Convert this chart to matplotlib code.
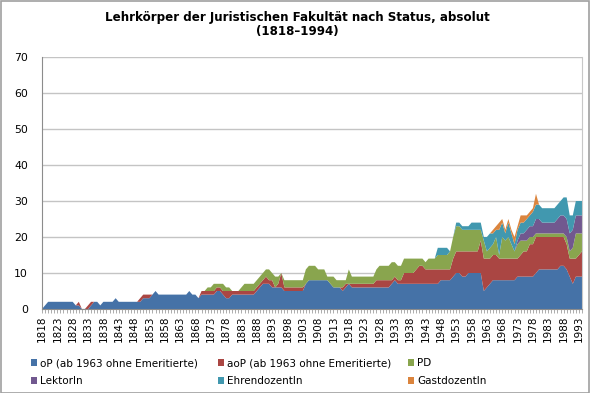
import matplotlib
matplotlib.use("Agg")
import matplotlib.pyplot as plt
from matplotlib.patches import Patch, Rectangle

years = list(range(1818, 1995))

oP = [0, 1, 2, 2, 2, 2, 2, 2, 2, 2,
      2, 1, 1, 0, 0, 0, 1, 2, 2, 1,
      2, 2, 2, 2, 3, 2, 2, 2, 2, 2,
      2, 2, 2, 3, 3, 3, 4, 5, 4, 4,
      4, 4, 4, 4, 4, 4, 4, 4, 5, 4,
      4, 3, 4, 4, 4, 4, 4, 5, 5, 4,
      3, 3, 4, 4, 4, 4, 4, 4, 4, 4,
      5, 6, 7, 7, 7, 6, 6, 6, 6, 5,
      5, 5, 5, 5, 5, 5, 7, 8, 8, 8,
      8, 8, 8, 8, 7, 6, 6, 6, 5, 6,
      7, 6, 6, 6, 6, 6, 6, 6, 6, 6,
      6, 6, 6, 6, 7, 8, 7, 7, 7, 7,
      7, 7, 7, 7, 7, 7, 7, 7, 7, 7,
      8, 8, 8, 8, 9, 10, 10, 9, 9, 10,
      10, 10, 10, 10, 5, 6, 7, 8, 8, 8,
      8, 8, 8, 8, 8, 9, 9, 9, 9, 9,
      9, 10, 11, 11, 11, 11, 11, 11, 11, 12,
      12, 11, 9, 7, 9, 9, 9]

aoP = [0, 0, 0, 0, 0, 0, 0, 0, 0, 0,
       0, 0, 1, 0, 0, 1, 1, 0, 0, 0,
       0, 0, 0, 0, 0, 0, 0, 0, 0, 0,
       0, 0, 1, 1, 1, 1, 0, 0, 0, 0,
       0, 0, 0, 0, 0, 0, 0, 0, 0, 0,
       0, 0, 1, 1, 1, 1, 1, 1, 1, 1,
       2, 2, 1, 1, 1, 1, 1, 1, 1, 1,
       1, 1, 1, 2, 1, 2, 0, 1, 4, 1,
       1, 1, 1, 1, 1, 1, 0, 0, 0, 0,
       0, 0, 0, 0, 0, 0, 0, 0, 1, 1,
       0, 1, 1, 1, 1, 1, 1, 1, 1, 2,
       2, 2, 2, 2, 1, 1, 1, 1, 3, 3,
       3, 3, 4, 5, 5, 4, 4, 4, 4, 4,
       3, 3, 3, 3, 5, 6, 6, 7, 7, 6,
       6, 6, 6, 9, 9, 8, 7, 7, 7, 6,
       6, 6, 6, 6, 6, 5, 6, 7, 7, 9,
       9, 10, 9, 9, 9, 9, 9, 9, 9, 8,
       8, 7, 5, 7, 5, 6, 7]

PD = [0, 0, 0, 0, 0, 0, 0, 0, 0, 0,
      0, 0, 0, 0, 0, 0, 0, 0, 0, 0,
      0, 0, 0, 0, 0, 0, 0, 0, 0, 0,
      0, 0, 0, 0, 0, 0, 0, 0, 0, 0,
      0, 0, 0, 0, 0, 0, 0, 0, 0, 0,
      0, 0, 0, 0, 1, 1, 2, 1, 1, 2,
      1, 1, 0, 0, 0, 1, 2, 2, 2, 2,
      2, 2, 2, 2, 3, 2, 3, 2, 0, 2,
      2, 2, 2, 2, 2, 2, 4, 4, 4, 4,
      3, 3, 3, 1, 2, 3, 2, 2, 2, 1,
      4, 2, 2, 2, 2, 2, 2, 2, 2, 3,
      4, 4, 4, 4, 5, 4, 4, 4, 4, 4,
      4, 4, 3, 2, 2, 2, 3, 3, 3, 4,
      4, 4, 4, 5, 6, 7, 7, 6, 6, 6,
      6, 6, 6, 3, 5, 2, 3, 3, 5, 1,
      6, 5, 6, 4, 2, 4, 4, 3, 3, 2,
      2, 1, 1, 1, 1, 1, 1, 1, 1, 1,
      1, 2, 2, 3, 7, 6, 5]

Lektor = ([0] * 155 +
          [1, 2, 2, 3, 3,
           3, 4, 4, 3, 3, 3, 3, 3, 4, 5,
           5, 5, 5, 5, 5, 5, 5])

Ehren = ([0] * 129 +
         [2, 2, 2, 2, 0, 0, 1, 1, 1, 1, 1,
          2, 2, 2, 2, 1, 4, 4, 3, 2, 7,
          4, 2, 4, 3, 2, 3, 3, 3, 3, 3,
          4, 4, 4, 4, 4, 4, 4, 4, 4, 4,
          5, 6, 5, 4, 4, 4, 4])

Gast = ([0] * 146 +
        [0, 1, 1, 2,
         1, 1, 1, 1, 2, 1, 2, 2, 1, 1,
         1, 3, 0, 0, 0, 0, 0, 0, 0, 0,
         0, 0, 0, 0, 0, 0, 0])

labels = ["oP (ab 1963 ohne Emeritierte)", "aoP (ab 1963 ohne Emeritierte)", "PD",
          "LektorIn", "EhrendozentIn", "GastdozentIn"]
colors = ["#4572A7", "#AA4643", "#89A54E", "#71588F", "#4198AF", "#DB843D"]

plt.rcParams['font.family'] = ['DejaVu Sans']

W, H = 590, 393
fig = plt.figure(figsize=(W / 100, H / 100), dpi=100)
ax = fig.add_axes([42 / W, 1 - 309 / H, 540 / W, 252 / H])

ax.stackplot(years, oP, aoP, PD, Lektor, Ehren, Gast, colors=colors, linewidth=0)
ax.set_xlim(1818, 1994)
ax.set_ylim(0, 70)
ax.set_yticks(range(0, 71, 10))
ax.yaxis.grid(True, color='#c4c4c4', linewidth=1.0)
ax.set_axisbelow(True)

major = list(range(1818, 1994, 5))
ax.set_xticks(major)
ax.set_xticklabels([str(y) for y in major], rotation=90, fontsize=7.5)
ax.set_xticks(years, minor=True)
ax.tick_params(axis='x', which='both', length=3, color='#a0a0a0', width=0.6, pad=2)
ax.tick_params(axis='y', length=0, labelsize=7.8, pad=10)

ax.spines['top'].set_visible(False)
for s in ['left', 'bottom']:
    ax.spines[s].set_color('#8c8c8c')
    ax.spines[s].set_linewidth(0.8)
ax.spines['right'].set_color('#c8c8c8')
ax.spines['right'].set_linewidth(0.8)

fig.text(297 / W, 1 - 17 / H, "Lehrkörper der Juristischen Fakultät nach Status, absolut",
         ha='center', va='center', fontsize=8.6, fontweight='bold')
fig.text(297 / W, 1 - 31 / H, "(1818–1994)",
         ha='center', va='center', fontsize=8.6, fontweight='bold')

handles = [Patch(facecolor=c, edgecolor='none') for c in colors]
col_x = [31, 218, 408]
for j in range(3):
    idx = [j, j + 3]
    fig.legend([handles[i] for i in idx], [labels[i] for i in idx],
               ncol=1, loc='upper left', bbox_to_anchor=(col_x[j] / W, 1 - 358 / H),
               frameon=False, fontsize=7.5, handlelength=0.6, handleheight=0.6,
               handletextpad=0.3, labelspacing=0.8,
               borderaxespad=0, borderpad=0)

fig.patches.append(Rectangle((0.5 / W, 0.5 / H), 1 - 1.5 / W, 1 - 1.5 / H,
                             transform=fig.transFigure, fill=False,
                             edgecolor='#a0a0a0', linewidth=1.2))

fig.savefig("out.png", dpi=100)
